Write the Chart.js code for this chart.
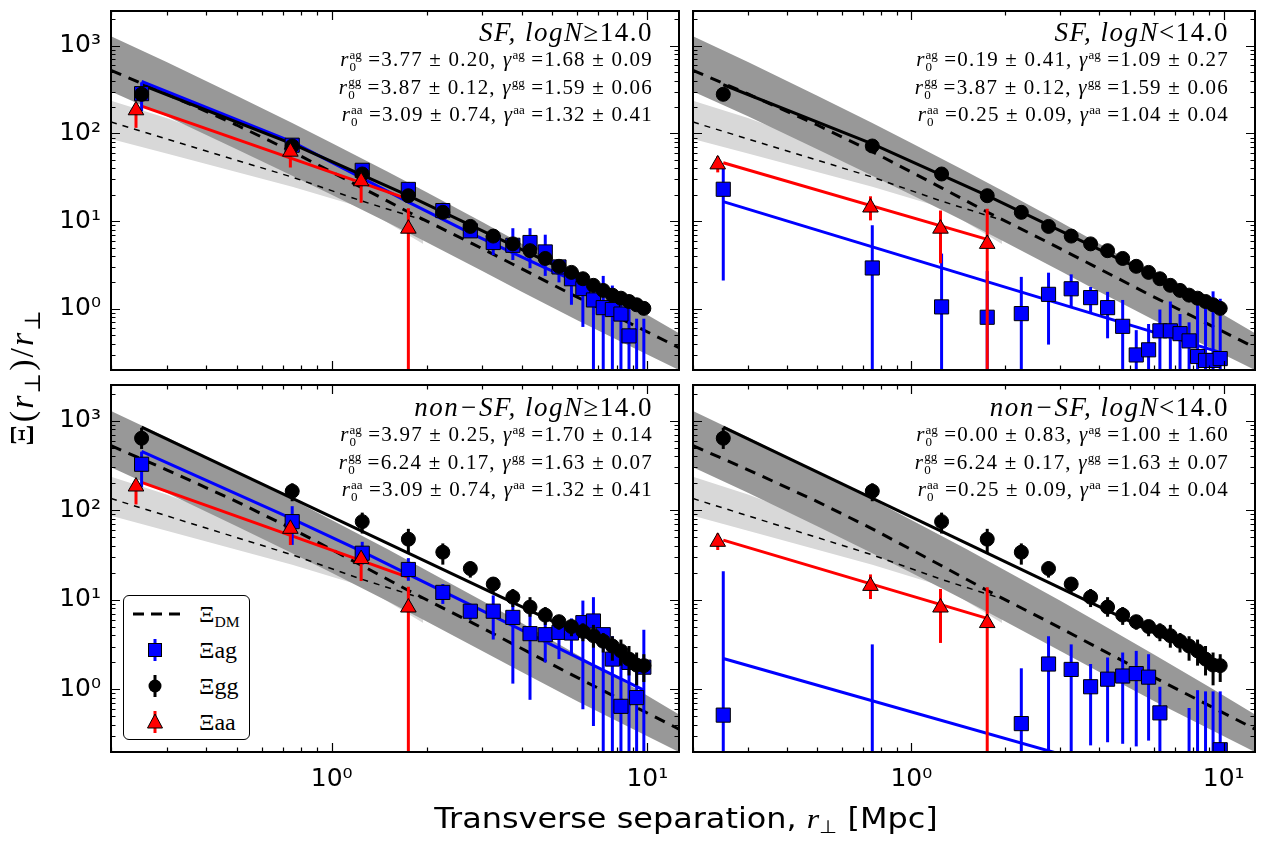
<!DOCTYPE html>
<html>
<head>
<meta charset="utf-8">
<title>Xi(r)/r projected correlation</title>
<script src="https://cdn.jsdelivr.net/npm/chart.js@4.4.1/dist/chart.umd.min.js"></script>
<style>
  html, body { margin: 0; padding: 0; background: #fff; }
  body { width: 1274px; height: 841px; position: relative; overflow: hidden; }
  canvas { position: absolute; }
  .note { position: absolute; text-align: right; white-space: nowrap; color: #000;
          font-family: "Liberation Serif", "DejaVu Serif", serif; }
  .note .ttl { font-size: 27px; line-height: 27px; font-style: italic; letter-spacing: 1.5px; }
  .note .ttl .up { font-style: normal; }
  .note .row { font-size: 21px; line-height: 26.5px; letter-spacing: 1.2px; }
  .ss { display: inline-block; vertical-align: -0.4em; line-height: 0.95; font-size: 0.62em; text-align: left; letter-spacing: 0; }
  .ss span { display: block; }
  .note sup { font-size: 0.62em; vertical-align: 0.55em; line-height: 0; letter-spacing: 0; }
  #legend { position: absolute; left: 123px; top: 595px; width: 125px; height: 143px;
            border: 1.5px solid #000; border-radius: 6px; background: #fff;
            font-family: "Liberation Serif", "DejaVu Serif", serif; font-size: 24px; }
  #legend .it { position: absolute; left: 0; height: 36px; width: 125px; }
  #legend svg { position: absolute; left: 3px; top: 3px; }
  #legend .lb { position: absolute; left: 75px; top: 4px; line-height: 28px; }
  #legend sub { font-size: 0.65em; vertical-align: -0.3em; line-height: 0; }
  #ytitle { position: absolute; left: 22px; top: 377px; transform: translate(-50%, -50%) rotate(-90deg);
            font-family: "Liberation Serif", "DejaVu Serif", serif; font-size: 34px; letter-spacing: 2px; white-space: nowrap; }
  #ytitle sub, #xtitle sub { font-size: 0.65em; vertical-align: -0.3em; line-height: 0; }
  #xtitle { position: absolute; left: 686px; top: 818px; transform: translate(-50%, -50%) scaleX(1.14);
            font-family: "DejaVu Sans", sans-serif; font-size: 28px; white-space: nowrap; }
  #xtitle i { font-family: "Liberation Serif", "DejaVu Serif", serif; }
</style>
</head>
<body>
<canvas id="tl" width="690" height="381" style="left:0;top:0"></canvas>
<canvas id="tr" width="584" height="381" style="left:682px;top:0"></canvas>
<canvas id="bl" width="690" height="467" style="left:0;top:374px"></canvas>
<canvas id="br" width="584" height="467" style="left:682px;top:374px"></canvas>

<div class="note" style="right:621px;top:19px">
  <div class="ttl">SF, logN<span class="up">≥14.0</span></div>
  <div class="row"><i>r</i><span class="ss"><span>ag</span><span>0</span></span> =3.77 ± 0.20, <i>γ</i><sup>ag</sup> =1.68 ± 0.09</div>
  <div class="row"><i>r</i><span class="ss"><span>gg</span><span>0</span></span> =3.87 ± 0.12, <i>γ</i><sup>gg</sup> =1.59 ± 0.06</div>
  <div class="row"><i>r</i><span class="ss"><span>aa</span><span>0</span></span> =3.09 ± 0.74, <i>γ</i><sup>aa</sup> =1.32 ± 0.41</div>
</div>
<div class="note" style="right:45px;top:19px">
  <div class="ttl">SF, logN<span class="up">&lt;14.0</span></div>
  <div class="row"><i>r</i><span class="ss"><span>ag</span><span>0</span></span> =0.19 ± 0.41, <i>γ</i><sup>ag</sup> =1.09 ± 0.27</div>
  <div class="row"><i>r</i><span class="ss"><span>gg</span><span>0</span></span> =3.87 ± 0.12, <i>γ</i><sup>gg</sup> =1.59 ± 0.06</div>
  <div class="row"><i>r</i><span class="ss"><span>aa</span><span>0</span></span> =0.25 ± 0.09, <i>γ</i><sup>aa</sup> =1.04 ± 0.04</div>
</div>
<div class="note" style="right:621px;top:394px">
  <div class="ttl">non−SF, logN<span class="up">≥14.0</span></div>
  <div class="row"><i>r</i><span class="ss"><span>ag</span><span>0</span></span> =3.97 ± 0.25, <i>γ</i><sup>ag</sup> =1.70 ± 0.14</div>
  <div class="row"><i>r</i><span class="ss"><span>gg</span><span>0</span></span> =6.24 ± 0.17, <i>γ</i><sup>gg</sup> =1.63 ± 0.07</div>
  <div class="row"><i>r</i><span class="ss"><span>aa</span><span>0</span></span> =3.09 ± 0.74, <i>γ</i><sup>aa</sup> =1.32 ± 0.41</div>
</div>
<div class="note" style="right:45px;top:394px">
  <div class="ttl">non−SF, logN<span class="up">&lt;14.0</span></div>
  <div class="row"><i>r</i><span class="ss"><span>ag</span><span>0</span></span> =0.00 ± 0.83, <i>γ</i><sup>ag</sup> =1.00 ± 1.60</div>
  <div class="row"><i>r</i><span class="ss"><span>gg</span><span>0</span></span> =6.24 ± 0.17, <i>γ</i><sup>gg</sup> =1.63 ± 0.07</div>
  <div class="row"><i>r</i><span class="ss"><span>aa</span><span>0</span></span> =0.25 ± 0.09, <i>γ</i><sup>aa</sup> =1.04 ± 0.04</div>
</div>

<div id="legend">
  <div class="it" style="top:0">
    <svg width="60" height="30"><line x1="6" y1="15" x2="53" y2="15" stroke="#000" stroke-width="3" stroke-dasharray="11 7"/></svg>
    <span class="lb">Ξ<sub>DM</sub></span>
  </div>
  <div class="it" style="top:36px">
    <svg width="60" height="30"><line x1="28" y1="4" x2="28" y2="26" stroke="#0000ff" stroke-width="3"/><rect x="21.5" y="8.5" width="13" height="13" fill="#0000ff" stroke="#000" stroke-width="1"/></svg>
    <span class="lb">Ξag</span>
  </div>
  <div class="it" style="top:72px">
    <svg width="60" height="30"><line x1="28" y1="4" x2="28" y2="26" stroke="#000" stroke-width="3"/><circle cx="28" cy="15" r="6.5" fill="#000"/></svg>
    <span class="lb">Ξgg</span>
  </div>
  <div class="it" style="top:108px">
    <svg width="60" height="30"><line x1="28" y1="4" x2="28" y2="26" stroke="#ff0000" stroke-width="3"/><polygon points="28,7 35.5,21 20.5,21" fill="#ff0000" stroke="#000" stroke-width="1"/></svg>
    <span class="lb">Ξaa</span>
  </div>
</div>

<div id="ytitle">Ξ(<i>r</i><sub>⊥</sub>)/<i>r</i><sub>⊥</sub></div>
<div id="xtitle">Transverse separation, <i>r</i><sub>⊥</sub> [Mpc]</div>

<script>
// axis limits and tick labels
const xRange = [0.2, 12.6];
const yRange = [0.2, 2500];
const xTickValues = [1, 10];
const xTickLabels = ['10⁰', '10¹'];
const yTickValues = [1, 10, 100, 1000];
const yTickLabels = ['10⁰', '10¹', '10²', '10³'];

// separation bins (Mpc)
const bins = [0.25, 0.75, 1.25, 1.75, 2.25, 2.75, 3.25, 3.75, 4.25, 4.75,
              5.25, 5.75, 6.25, 6.75, 7.25, 7.75, 8.25, 8.75, 9.25, 9.75];
const aaBins = [0.24, 0.74, 1.24, 1.75];

// galaxy-galaxy, SF (both upper panels)
const ggSF   = [280, 72, 34.5, 19.5, 12.6, 8.7, 6.75, 5.5, 4.6, 3.75, 3.05, 2.6, 2.2, 1.85, 1.62, 1.43, 1.32, 1.21, 1.11, 1.01];
const ggSFLo = [262, 66, 31.5, 17.8, 11.5, 8.0, 6.2, 5.05, 4.2, 3.4, 2.75, 2.35, 1.98, 1.66, 1.45, 1.28, 1.18, 1.08, 0.99, 0.9];
const ggSFUp = [298, 78, 37.5, 21.2, 13.7, 9.4, 7.3, 5.95, 5.0, 4.1, 3.35, 2.85, 2.42, 2.04, 1.79, 1.58, 1.46, 1.34, 1.23, 1.12];

// galaxy-galaxy, non-SF (both lower panels)
const ggNS   = [636, 163, 74.6, 47.5, 34, 22.3, 15, 10.7, 8.3, 6.75, 5.7, 5.03, 4.44, 3.98, 3.45, 3.05, 2.69, 2.18, 1.87, 1.84];
const ggNSLo = [483, 126, 55, 33, 24.7, 17.7, 12.1, 8.3, 6.47, 5.25, 4.63, 3.92, 3.45, 2.92, 2.58, 2.09, 1.84, 1.43, 1.11, 1.21];
const ggNSUp = [832, 200, 94, 62, 42.6, 26.9, 17.7, 13.2, 10.7, 8.3, 6.75, 5.95, 5.47, 5.25, 4.26, 3.92, 3.6, 3.05, 2.58, 2.47];

// absorber-galaxy
const agSFgt   = [285, 73.5, 38, 23, 13.2, 7.75, 5.7, 5.3, 5.7, 4.45, 3.0, 2.2, 1.7, 1.26, 1.03, 0.98, 0.87, 0.49, null, null];
const agSFgtLo = [180, 59, 31.6, 17.7, 11.6, 6.5, 4.1, 3.6, 2.9, 2.37, 2.0, 1.11, 0.62, 0.01, 0.01, 0.01, 0.01, 0.01, 0.01, 0.01];
const agSFgtUp = [383, 83, 44, 28, 16.2, 8.3, 7.6, 8.3, 8.3, 7.0, 3.6, 2.58, 2.37, 2.18, 2.37, 1.84, 1.56, 1.11, 0.77, 0.77];

const agSFlt   = [23.1, 2.92, 1.05, 0.80, 0.88, 1.46, 1.69, 1.34, 1.03, 0.63, 0.297, 0.34, 0.56, 0.56, 0.52, 0.43, 0.285, 0.257, 0.257, 0.27];
const agSFltLo = [2.1, 0.01, 0.01, 0.01, 0.01, 0.39, 1.05, 0.9, 0.46, 0.01, 0.01, 0.01, 0.01, 0.01, 0.01, 0.01, 0.01, 0.01, 0.01, 0.01];
const agSFltUp = [40, 9.0, 4.26, 2.69, 2.31, 2.58, 2.47, 1.77, 1.56, 1.26, 0.57, 0.67, 0.98, 1.21, 0.87, 0.70, 1.26, 1.03, 1.58, 1.30];

const agNSgt   = [326, 74.6, 33.1, 21.8, 12.1, 7.46, 7.46, 6.36, 4.19, 4.08, 4.33, 4.26, 5.56, 5.8, 4.08, 2.18, 0.647, 2.0, 0.81, 1.77];
const agNSgtLo = [180, 41, 24.7, 16.3, 9.0, 5.95, 3.6, 1.16, 0.765, 2.0, 2.18, 2.47, 0.6, 0.39, 0.01, 0.01, 0.01, 0.01, 0.01, 0.01];
const agNSgtUp = [450, 111, 44.4, 29.2, 15, 8.67, 11.2, 12.6, 9.04, 6.2, 6.47, 6.2, 9.8, 10.7, 4.63, 3.92, 2.58, 2.18, 1.69, 4.63];

const agNSlt   = [0.516, null, null, null, 0.415, 1.92, 1.67, 1.07, 1.3, 1.41, 1.5, 1.37, 0.547, null, null, null, null, null, null, 0.212];
const agNSltLo = [0.01, 0.01, null, null, 0.01, 0.01, 0.01, 0.237, 0.257, 0.247, 0.231, 0.268, 0.01, null, null, 0.01, 0.01, 0.01, 0.01, 0.01];
const agNSltUp = [20.9, 3.18, null, null, 1.72, 3.92, 3.18, 1.92, 2.27, 2.58, 2.69, 2.47, 1.07, null, null, 0.62, 0.98, 0.95, 0.95, 0.95];

// absorber-absorber
const aaGt   = [184, 62, 28.5, 8.2];
const aaGtLo = [116, 40.9, 16.2, 0.01];
const aaGtUp = [219, 73.5, 33, 14];
const aaLt   = [44.4, 14.3, 8.2, 5.5];
const aaLtLo = [36, 10.2, 3.3, 0.01];
const aaLtUp = [55, 19.2, 13.2, 13.8];

// power-law fits
const fitGgSFX = [0.25, 0.75, 1.75, 9.75];
const fitGgSFY = [360, 76, 19.5, 1.03];
const fitGgNSX = [0.25, 9.75];
const fitGgNSY = [845, 1.9];
const fitAgSFgtX = [0.25, 0.75, 1.25, 1.75, 2.75, 4.75, 9.75];
const fitAgSFgtY = [392, 80, 31, 16.5, 7.3, 2.92, 0.94];
const fitAgSFltX = [0.25, 9.75];
const fitAgSFltY = [16.7, 0.318];
const fitAgNSgtX = [0.25, 0.75, 1.25, 1.75, 9.75];
const fitAgNSgtY = [455, 80, 34.5, 19.2, 0.98];
const fitAgNSltX = [0.25, 9.75];
const fitAgNSltY = [2.21, 0.059];
const fitAaGtX = [0.25, 1.75];
const fitAaGtY = [205, 17.8];
const fitAaLtX = [0.25, 1.75];
const fitAaLtY = [46.3, 6.2];

// dark matter model (thick dashed) and its band
const dmX = [0.2, 0.3, 0.5, 0.75, 1.25, 1.75, 2.8, 3.86, 5.8, 8.3, 12.6];
const dmY = [525, 283, 125, 62, 24, 12.7, 5.5, 3.05, 1.44, 0.76, 0.36];
const dmBandX  = [0.2, 0.3, 0.5, 0.75, 1, 1.5, 2, 3, 4, 6, 9, 12.6];
const dmBandUp = [1285, 653, 270, 131.5, 78, 36.8, 21.3, 9.75, 5.52, 2.44, 1.06, 0.525];
const dmBandLo = [301, 157, 66.2, 33.0, 20.0, 9.68, 5.74, 2.69, 1.56, 0.738, 0.361, 0.2];

// second model (thin dashed) and its band
const dm2X = [0.2, 0.75, 1.25, 1.75, 1.95];
const dm2Y = [135, 31.8, 16.9, 11.6, 10.3];
const dm2BandX  = [0.2, 0.3, 0.75, 1.25, 1.95];
const dm2BandUp = [237, 150, 45, 25, 14];
const dm2BandLo = [86.7, 59, 24.7, 14.3, 5.5];

const BLUE = '#0000ff', RED = '#ff0000', BLACK = '#000000';
const DARK = '#989898', LIGHT = '#d8d8d8';

function xy(xs, ys) {
  return xs.map((x, i) => ({ x: x, y: ys[i] })).filter(p => p.y !== null);
}
function errs(xs, lo, up) {
  return xs.map((x, i) => ({ x: x, lo: lo[i], up: up[i] })).filter(e => e.lo !== null);
}
function curve(xs, ys, color, width, dash, order) {
  return { data: xy(xs, ys), borderColor: color, borderWidth: width, borderDash: dash,
           pointRadius: 0, fill: false, order: order };
}
function edge(xs, ys, color, order, fill) {
  return { data: xy(xs, ys), borderWidth: 0, borderColor: 'rgba(0,0,0,0)', backgroundColor: color,
           pointRadius: 0, fill: fill, order: order };
}
function markers(xs, s, style, radius, color, order) {
  return { data: xy(xs, s[0]), showLine: false, pointStyle: style, pointRadius: radius,
           pointBackgroundColor: color, pointBorderColor: BLACK, pointBorderWidth: 1,
           order: order, bars: errs(xs, s[1], s[2]), barColor: color };
}

// error bars, drawn just before their markers
const errorBars = {
  id: 'errorBars',
  beforeDatasetDraw(chart, args) {
    const ds = chart.data.datasets[args.index];
    if (!ds.bars) return;
    const { ctx, chartArea: a, scales: { x, y } } = chart;
    ctx.save();
    ctx.beginPath();
    ctx.rect(a.left, a.top, a.width, a.height);
    ctx.clip();
    ctx.strokeStyle = ds.barColor;
    ctx.lineWidth = 3;
    ds.bars.forEach(b => {
      const px = x.getPixelForValue(b.x);
      ctx.beginPath();
      ctx.moveTo(px, y.getPixelForValue(b.lo));
      ctx.lineTo(px, y.getPixelForValue(b.up));
      ctx.stroke();
    });
    ctx.restore();
  }
};

// inward ticks on all four sides + frame
const frame = {
  id: 'frame',
  afterDraw(chart) {
    const { ctx, chartArea: a, scales: { x, y } } = chart;
    const decades = [0.1, 1, 10, 100, 1000];
    ctx.save();
    ctx.strokeStyle = BLACK;
    ctx.lineWidth = 1.2;
    decades.forEach(d => {
      for (let k = 1; k <= 9; k++) {
        const v = k * d;
        const len = k === 1 ? 9 : 4.5;
        if (v >= xRange[0] && v <= xRange[1]) {
          const px = Math.round(x.getPixelForValue(v)) + 0.5;
          ctx.beginPath();
          ctx.moveTo(px, a.bottom); ctx.lineTo(px, a.bottom - len);
          ctx.moveTo(px, a.top); ctx.lineTo(px, a.top + len);
          ctx.stroke();
        }
        if (v >= yRange[0] && v <= yRange[1]) {
          const py = Math.round(y.getPixelForValue(v)) + 0.5;
          ctx.beginPath();
          ctx.moveTo(a.left, py); ctx.lineTo(a.left + len, py);
          ctx.moveTo(a.right, py); ctx.lineTo(a.right - len, py);
          ctx.stroke();
        }
      }
    });
    ctx.lineWidth = 2;
    ctx.strokeRect(a.left, a.top, a.right - a.left, a.bottom - a.top);
    ctx.restore();
  }
};

const panels = [
  { id: 'tl', ag: [agSFgt, agSFgtLo, agSFgtUp], gg: [ggSF, ggSFLo, ggSFUp], aa: [aaGt, aaGtLo, aaGtUp],
    fitAg: [fitAgSFgtX, fitAgSFgtY], fitGg: [fitGgSFX, fitGgSFY], fitAa: [fitAaGtX, fitAaGtY],
    showX: false, showY: true, pad: { left: 0, top: 3, right: 4, bottom: 3 } },
  { id: 'tr', ag: [agSFlt, agSFltLo, agSFltUp], gg: [ggSF, ggSFLo, ggSFUp], aa: [aaLt, aaLtLo, aaLtUp],
    fitAg: [fitAgSFltX, fitAgSFltY], fitGg: [fitGgSFX, fitGgSFY], fitAa: [fitAaLtX, fitAaLtY],
    showX: false, showY: false, pad: { left: 4, top: 3, right: 5, bottom: 3 } },
  { id: 'bl', ag: [agNSgt, agNSgtLo, agNSgtUp], gg: [ggNS, ggNSLo, ggNSUp], aa: [aaGt, aaGtLo, aaGtUp],
    fitAg: [fitAgNSgtX, fitAgNSgtY], fitGg: [fitGgNSX, fitGgNSY], fitAa: [fitAaGtX, fitAaGtY],
    showX: true, showY: true, pad: { left: 0, top: 4, right: 4, bottom: 0 } },
  { id: 'br', ag: [agNSlt, agNSltLo, agNSltUp], gg: [ggNS, ggNSLo, ggNSUp], aa: [aaLt, aaLtLo, aaLtUp],
    fitAg: [fitAgNSltX, fitAgNSltY], fitGg: [fitGgNSX, fitGgNSY], fitAa: [fitAaLtX, fitAaLtY],
    showX: true, showY: false, pad: { left: 4, top: 4, right: 5, bottom: 0 } }
];

const tickFont = { family: 'DejaVu Sans', size: 25 };

function noPad(s) {
  s.paddingLeft = 0; s.paddingRight = 0; s.paddingTop = 0; s.paddingBottom = 0;
}

panels.forEach(p => {
  const datasets = [
    edge(dm2BandX, dm2BandUp, LIGHT, 20, '+1'),
    edge(dm2BandX, dm2BandLo, LIGHT, 19, false),
    edge(dmBandX, dmBandUp, DARK, 18, '+1'),
    edge(dmBandX, dmBandLo, DARK, 17, false),
    curve(dm2X, dm2Y, BLACK, 1.5, [6, 6], 16),
    curve(dmX, dmY, BLACK, 3, [11, 8], 15),
    curve(p.fitAg[0], p.fitAg[1], BLUE, 3, [], 14),
    curve(p.fitGg[0], p.fitGg[1], BLACK, 3, [], 13),
    curve(p.fitAa[0], p.fitAa[1], RED, 3, [], 12),
    markers(bins, p.ag, 'rect', 10, BLUE, 11),
    markers(bins, p.gg, 'circle', 7, BLACK, 10),
    markers(aaBins, p.aa, 'triangle', 9, RED, 9)
  ];
  new Chart(document.getElementById(p.id), {
    type: 'line',
    data: { datasets: datasets },
    plugins: [errorBars, frame],
    options: {
      responsive: false,
      animation: false,
      layout: { padding: p.pad },
      plugins: { legend: { display: false }, tooltip: { enabled: false } },
      scales: {
        x: {
          type: 'logarithmic', min: xRange[0], max: xRange[1], display: p.showX,
          grid: { display: false, drawTicks: false }, border: { display: false },
          ticks: { font: tickFont, color: BLACK, padding: 12, maxRotation: 0, autoSkip: false,
                   callback: v => xTickLabels[xTickValues.indexOf(v)] },
          afterBuildTicks: s => { s.ticks = xTickValues.map(v => ({ value: v })); },
          afterFit: s => { s.height = p.showX ? 89 : 0; noPad(s); }
        },
        y: {
          type: 'logarithmic', min: yRange[0], max: yRange[1], display: p.showY,
          grid: { display: false, drawTicks: false }, border: { display: false },
          ticks: { font: tickFont, color: BLACK, padding: 10, autoSkip: false,
                   callback: v => yTickLabels[yTickValues.indexOf(v)] },
          afterBuildTicks: s => { s.ticks = yTickValues.map(v => ({ value: v })); },
          afterFit: s => { s.width = p.showY ? 111 : 0; noPad(s); }
        }
      }
    }
  });
});
</script>
</body>
</html>
